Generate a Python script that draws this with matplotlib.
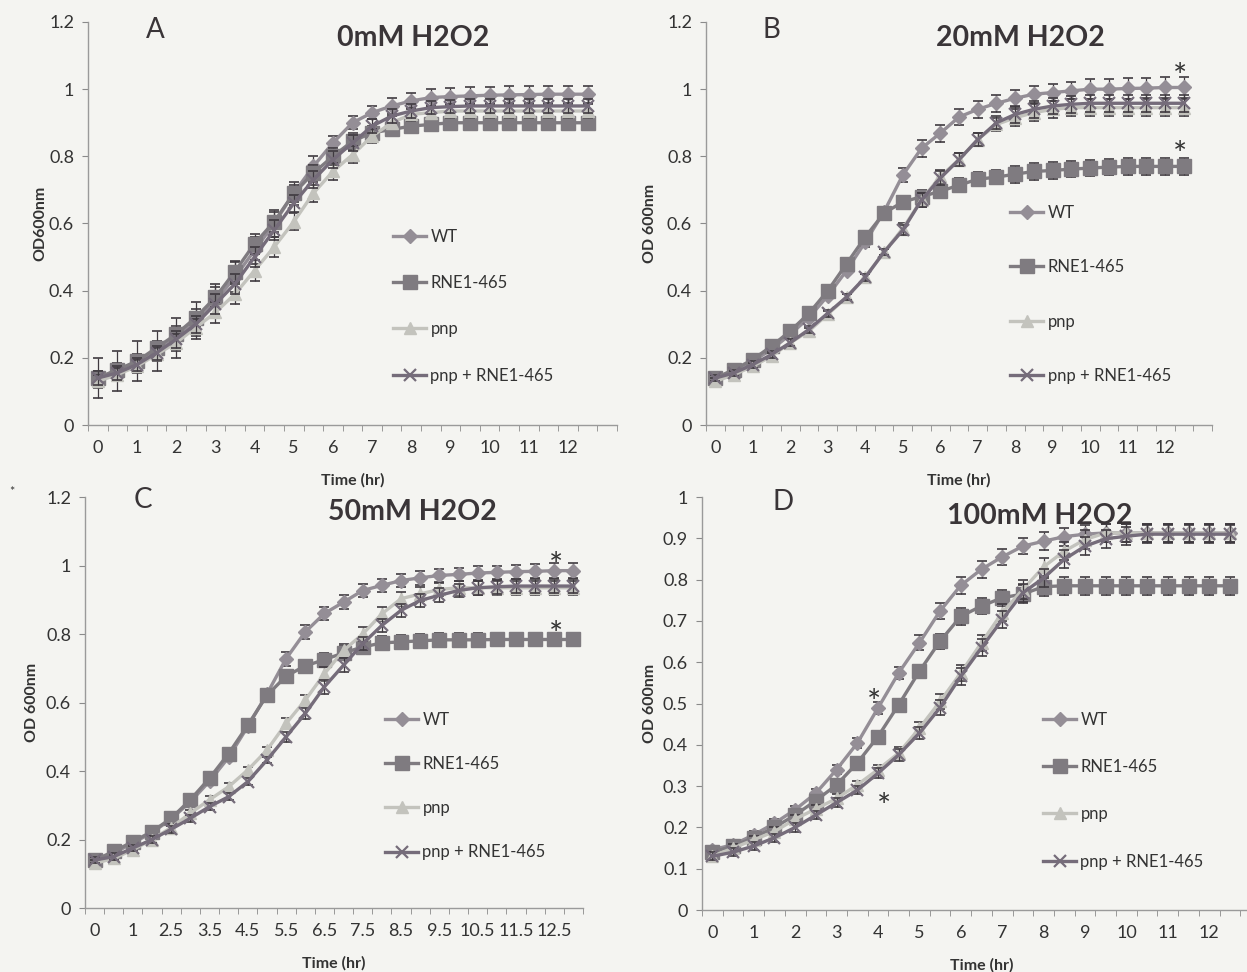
import numpy as np
import matplotlib
matplotlib.use("Agg")
import matplotlib.pyplot as plt
from matplotlib.ticker import FuncFormatter

plt.rcParams["font.family"] = ["Lato", "DejaVu Sans"]

W, H = 1247, 972

# x categories are half-hour readings, 26 per run
labels_hr = ["0", "1", "2", "3", "4", "5", "6", "7", "8", "9", "10", "11", "12"]
labels_c = ["0", "1", "2.5", "3.5", "4.5", "5.5", "6.5", "7.5", "8.5", "9.5", "10.5", "11.5", "12.5"]

# panel A - 0mM H2O2
a_wt = [0.14, 0.16, 0.19, 0.22, 0.26, 0.31, 0.37, 0.44, 0.52, 0.60, 0.69, 0.77, 0.84,
        0.90, 0.93, 0.95, 0.965, 0.975, 0.978, 0.98, 0.982, 0.983, 0.984, 0.985, 0.985, 0.985]
a_rne = [0.14, 0.165, 0.19, 0.23, 0.27, 0.32, 0.38, 0.457, 0.54, 0.605, 0.69, 0.75, 0.80,
         0.845, 0.87, 0.88, 0.89, 0.895, 0.90, 0.90, 0.90, 0.90, 0.90, 0.90, 0.90, 0.90]
a_pnp = [0.13, 0.15, 0.175, 0.21, 0.245, 0.29, 0.335, 0.39, 0.46, 0.53, 0.605, 0.69, 0.755,
         0.805, 0.86, 0.90, 0.925, 0.93, 0.935, 0.935, 0.935, 0.935, 0.935, 0.935, 0.935, 0.935]
a_pnp_rne = [0.14, 0.155, 0.18, 0.215, 0.255, 0.30, 0.36, 0.42, 0.50, 0.58, 0.66, 0.73, 0.79,
             0.84, 0.89, 0.92, 0.935, 0.945, 0.948, 0.95, 0.95, 0.95, 0.95, 0.95, 0.95, 0.95]
a_err_wt = [0.06, 0.06, 0.06, 0.06, 0.06, 0.055, 0.05, 0.045, 0.04, 0.04, 0.035, 0.03, 0.02,
            0.02, 0.02, 0.025, 0.025, 0.025, 0.025, 0.025, 0.025, 0.025, 0.025, 0.025, 0.025, 0.025]
a_err = [0.02, 0.02, 0.02, 0.02, 0.025, 0.025, 0.03, 0.03, 0.03, 0.03, 0.025, 0.025, 0.025,
         0.025, 0.02, 0.02, 0.02, 0.02, 0.02, 0.02, 0.02, 0.02, 0.02, 0.02, 0.02, 0.02]

# panel B - 20mM H2O2
b_wt = [0.14, 0.16, 0.19, 0.225, 0.27, 0.32, 0.385, 0.46, 0.545, 0.635, 0.744, 0.824, 0.869,
        0.917, 0.94, 0.958, 0.973, 0.985, 0.99, 0.995, 1.0, 1.0, 1.002, 1.003, 1.005, 1.005]
b_rne = [0.14, 0.165, 0.195, 0.235, 0.28, 0.333, 0.40, 0.48, 0.56, 0.631, 0.664, 0.68, 0.696,
         0.714, 0.732, 0.738, 0.747, 0.755, 0.758, 0.762, 0.765, 0.768, 0.77, 0.77, 0.77, 0.77]
b_pnp = [0.13, 0.15, 0.175, 0.205, 0.245, 0.28, 0.33, 0.38, 0.44, 0.515, 0.585, 0.67, 0.74,
         0.79, 0.85, 0.895, 0.915, 0.93, 0.94, 0.945, 0.945, 0.945, 0.945, 0.945, 0.945, 0.945]
b_pnp_rne = [0.14, 0.155, 0.18, 0.21, 0.245, 0.285, 0.333, 0.381, 0.44, 0.515, 0.58, 0.67, 0.735,
             0.79, 0.85, 0.90, 0.925, 0.94, 0.95, 0.955, 0.958, 0.958, 0.958, 0.958, 0.958, 0.958]
b_err_wt = [0.01, 0.01, 0.01, 0.01, 0.01, 0.01, 0.01, 0.01, 0.015, 0.015, 0.02, 0.025, 0.025,
            0.025, 0.025, 0.025, 0.025, 0.025, 0.025, 0.025, 0.03, 0.03, 0.03, 0.03, 0.03, 0.03]
b_err = [0.01, 0.01, 0.01, 0.01, 0.01, 0.01, 0.01, 0.01, 0.01, 0.01, 0.015, 0.02, 0.02,
         0.02, 0.02, 0.02, 0.025, 0.025, 0.025, 0.025, 0.025, 0.025, 0.025, 0.025, 0.025, 0.025]

# panel C - 50mM H2O2
c_wt = [0.14, 0.16, 0.19, 0.22, 0.26, 0.31, 0.37, 0.44, 0.53, 0.625, 0.728, 0.806, 0.86,
        0.893, 0.927, 0.942, 0.956, 0.964, 0.971, 0.974, 0.978, 0.98, 0.982, 0.983, 0.985, 0.985]
c_rne = [0.14, 0.165, 0.194, 0.223, 0.262, 0.316, 0.379, 0.451, 0.534, 0.621, 0.677, 0.707, 0.725,
         0.745, 0.762, 0.774, 0.777, 0.78, 0.783, 0.783, 0.783, 0.784, 0.784, 0.784, 0.784, 0.784]
c_pnp = [0.13, 0.145, 0.17, 0.20, 0.235, 0.277, 0.316, 0.354, 0.403, 0.461, 0.539, 0.607, 0.684,
         0.752, 0.80, 0.859, 0.903, 0.917, 0.93, 0.935, 0.935, 0.935, 0.935, 0.935, 0.935, 0.935]
c_pnp_rne = [0.14, 0.15, 0.175, 0.20, 0.23, 0.262, 0.296, 0.325, 0.369, 0.432, 0.50, 0.568, 0.646,
             0.709, 0.772, 0.825, 0.869, 0.898, 0.913, 0.927, 0.935, 0.938, 0.94, 0.94, 0.94, 0.94]
c_err_wt = [0.01, 0.01, 0.01, 0.01, 0.01, 0.01, 0.01, 0.01, 0.015, 0.015, 0.02, 0.02, 0.02,
            0.02, 0.02, 0.02, 0.02, 0.02, 0.02, 0.02, 0.02, 0.02, 0.02, 0.02, 0.022, 0.022]
c_err = [0.01, 0.01, 0.01, 0.01, 0.01, 0.01, 0.01, 0.01, 0.01, 0.01, 0.015, 0.015, 0.02,
         0.02, 0.02, 0.02, 0.02, 0.02, 0.02, 0.02, 0.02, 0.02, 0.02, 0.02, 0.02, 0.02]

# panel D - 100mM H2O2
d_wt = [0.146, 0.158, 0.182, 0.21, 0.243, 0.283, 0.34, 0.404, 0.489, 0.574, 0.647, 0.724, 0.786,
        0.825, 0.855, 0.881, 0.893, 0.904, 0.91, 0.913, 0.913, 0.913, 0.913, 0.913, 0.913, 0.913]
d_rne = [0.14, 0.155, 0.175, 0.20, 0.23, 0.265, 0.303, 0.356, 0.42, 0.497, 0.578, 0.651, 0.711,
         0.736, 0.756, 0.765, 0.783, 0.785, 0.785, 0.785, 0.785, 0.785, 0.785, 0.785, 0.785, 0.785]
d_pnp = [0.13, 0.15, 0.17, 0.19, 0.22, 0.245, 0.27, 0.303, 0.34, 0.38, 0.44, 0.505, 0.574,
         0.647, 0.72, 0.776, 0.831, 0.869, 0.897, 0.913, 0.913, 0.913, 0.913, 0.913, 0.913, 0.913]
d_pnp_rne = [0.13, 0.14, 0.155, 0.175, 0.20, 0.23, 0.26, 0.29, 0.331, 0.376, 0.428, 0.49, 0.566,
             0.635, 0.703, 0.768, 0.804, 0.849, 0.881, 0.899, 0.905, 0.91, 0.91, 0.91, 0.91, 0.91]
d_err_wt = [0.01, 0.01, 0.01, 0.01, 0.01, 0.01, 0.01, 0.012, 0.015, 0.015, 0.018, 0.02, 0.02,
            0.02, 0.02, 0.02, 0.022, 0.022, 0.022, 0.022, 0.022, 0.022, 0.022, 0.022, 0.022, 0.022]
d_err = [0.01, 0.01, 0.01, 0.01, 0.01, 0.01, 0.01, 0.01, 0.012, 0.015, 0.015, 0.018, 0.02,
         0.02, 0.02, 0.022, 0.022, 0.022, 0.022, 0.022, 0.022, 0.022, 0.022, 0.022, 0.022, 0.022]

series_names = ["WT", "RNE1-465", "pnp", "pnp + RNE1-465"]
colors = ["#948e96", "#7f7b80", "#c3c3bd", "#756c7a"]
markers = ["D", "s", "^", "x"]
msizes = [7.5, 10, 9, 8]
bg = "#f4f4f1"


def px(x, y):
    return x / W, 1 - y / H


fig = plt.figure(figsize=(W / 100, H / 100), dpi=100, facecolor=bg)
fig.text(*px(12, 492), "*", fontsize=9, ha="center", va="center", color="#333333")


def draw_panel(rect, xmax, ymax, ystep, data, errs, ticklabels, ylabel, ylabel_x,
               title, title_xy, letter, letter_xy, leg_xy, leg_space, stars):
    ax = fig.add_axes(rect)
    ax.set_facecolor("none")
    x = np.arange(len(data[0]))
    handles = []
    for k in range(4):
        ax.errorbar(x, data[k], yerr=errs[k], fmt="none", ecolor="#3f3a40",
                    elinewidth=0.9, capsize=3.5, capthick=1.2, zorder=2 + k)
        h, = ax.plot(x, data[k], color=colors[k], lw=2.4, marker=markers[k],
                     ms=msizes[k], mfc=colors[k], mec=colors[k], mew=1.6 if k == 3 else 1,
                     zorder=3 + k, label=series_names[k])
        handles.append(h)
    ax.set_xlim(-0.5, xmax)
    ax.set_ylim(0, ymax)
    ax.set_yticks(np.arange(0, ymax + 1e-6, ystep))
    ax.yaxis.set_major_formatter(FuncFormatter(lambda v, p: f"{round(v, 2):g}"))
    ax.set_xticks(np.arange(0, 26, 2))
    ax.set_xticklabels(ticklabels)
    ax.set_xticks(np.arange(-0.5, xmax + 0.01, 1), minor=True)
    ax.tick_params(axis="x", which="major", length=0, pad=11, labelsize=13, colors="#333333")
    ax.tick_params(axis="x", which="minor", length=4, direction="out", color="#8a8a8a")
    ax.tick_params(axis="y", length=4, direction="out", color="#8a8a8a", labelsize=13,
                   colors="#333333", pad=6)
    for s in ["top", "right"]:
        ax.spines[s].set_visible(False)
    for s in ["left", "bottom"]:
        ax.spines[s].set_color("#9a9a9a")
        ax.spines[s].set_linewidth(1)
    ax.set_xlabel("Time (hr)", fontsize=11.5, fontweight="bold", color="#333333", labelpad=12)
    ax.set_ylabel(ylabel, fontsize=11.5, fontweight="bold", color="#333333")
    ax.yaxis.set_label_coords(ylabel_x / W, rect[1] + rect[3] / 2, transform=fig.transFigure)
    ax.yaxis.label.set_va("center")
    fig.text(*px(*title_xy), title, fontsize=20.5, fontweight="bold", color="#3a3538",
             ha="center", va="center")
    fig.text(*px(*letter_xy), letter, fontsize=20, color="#3a3538", ha="center", va="center")
    leg = ax.legend(handles=handles, loc="upper left", bbox_to_anchor=px(*leg_xy),
                    bbox_transform=fig.transFigure, frameon=False, fontsize=12,
                    handlelength=2.0, handletextpad=0.25, labelspacing=leg_space,
                    borderpad=0, borderaxespad=0)
    for t in leg.get_texts():
        t.set_color("#333333")
    for sx, sy in stars:
        ax.text(sx, sy, "*", fontsize=24, ha="center", va="center", color="#333333")
    return ax


draw_panel([88 / W, 1 - 425 / H, 529 / W, 403 / H], 26.5, 1.2, 0.2,
           [a_wt, a_rne, a_pnp, a_pnp_rne], [a_err_wt, a_err, a_err, a_err],
           labels_hr, "OD600nm", 40, "0mM H2O2", (413, 38), "A", (155, 30),
           (393, 229), 1.81, [])

draw_panel([706 / W, 1 - 425 / H, 506 / W, 403 / H], 26.5, 1.2, 0.2,
           [b_wt, b_rne, b_pnp, b_pnp_rne], [b_err_wt, b_err, b_err, b_err],
           labels_hr, "OD 600nm", 650, "20mM H2O2", (1020, 38), "B", (771, 30),
           (1010, 205), 2.3, [(24.8, 1.032), (24.8, 0.80)])

draw_panel([85 / W, 1 - 908 / H, 498 / W, 411 / H], 25.5, 1.2, 0.2,
           [c_wt, c_rne, c_pnp, c_pnp_rne], [c_err_wt, c_err, c_err, c_err],
           labels_c, "OD 600nm", 32, "50mM H2O2", (412, 512), "C", (143, 500),
           (385, 712), 1.69, [(24.1, 0.995), (24.1, 0.795)])

draw_panel([702 / W, 1 - 910 / H, 559 / W, 413 / H], 26.5, 1.0, 0.1,
           [d_wt, d_rne, d_pnp, d_pnp_rne], [d_err_wt, d_err, d_err, d_err],
           labels_hr, "OD 600nm", 650, "100mM H2O2", (1040, 516), "D", (783, 502),
           (1043, 712), 1.87, [(7.8, 0.498), (8.3, 0.248)])

fig.savefig("out.png", dpi=100, facecolor=bg)
